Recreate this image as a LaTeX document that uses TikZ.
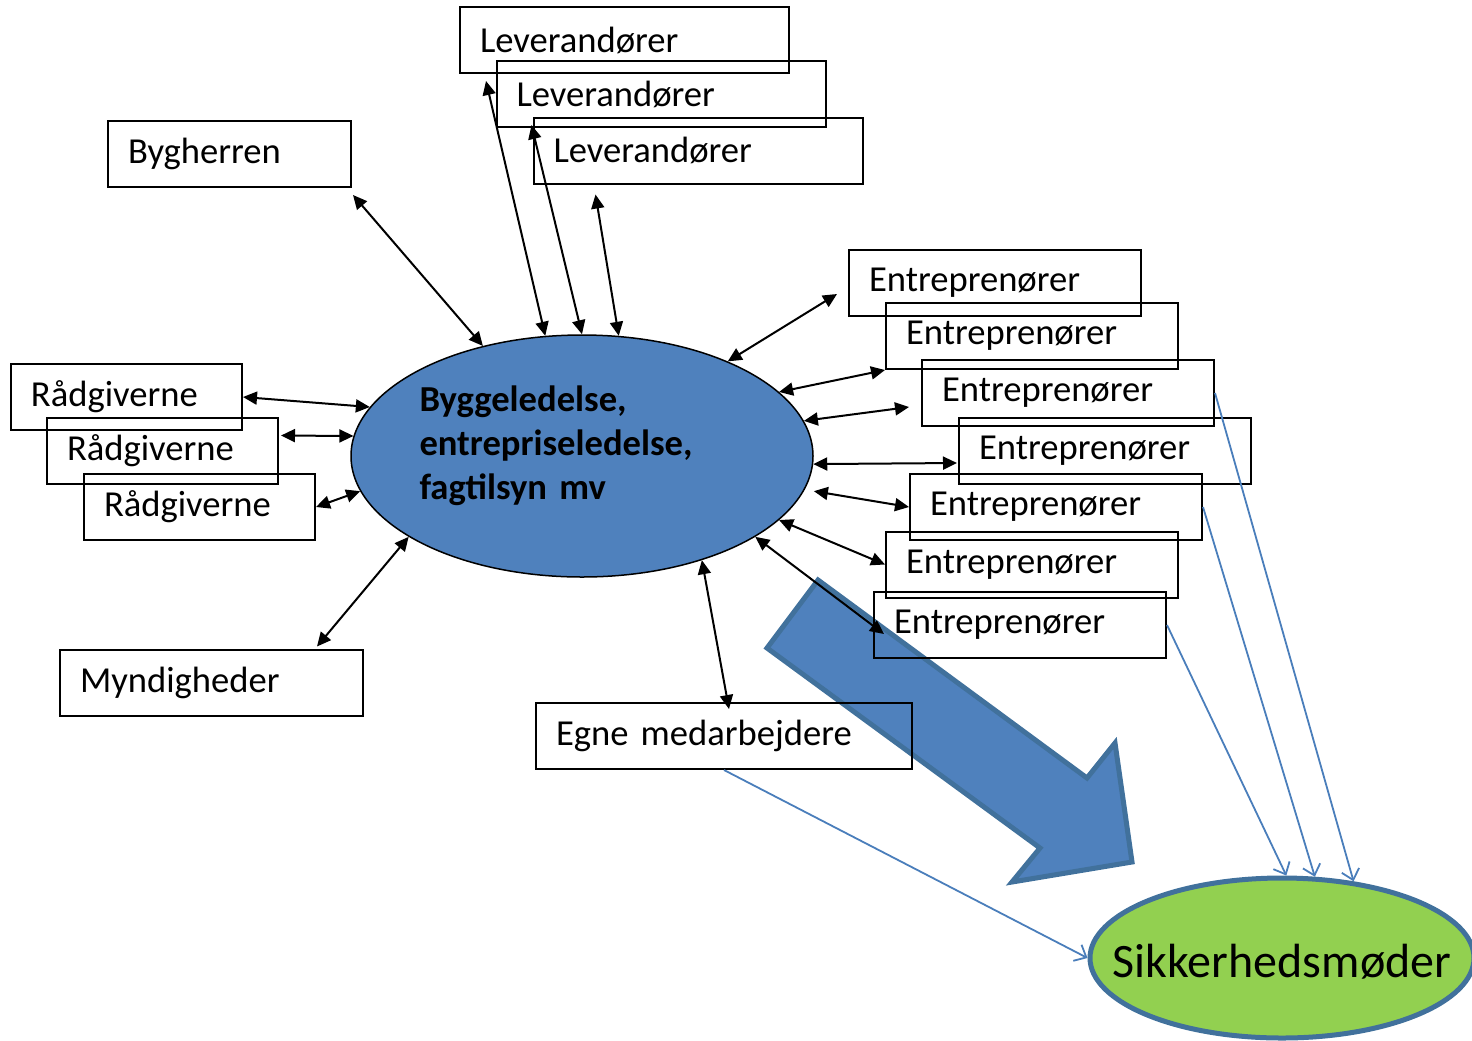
\documentclass[tikz,border=0pt]{standalone}
\usepackage{fontspec}
\setmainfont{Carlito}
\usetikzlibrary{backgrounds,calc,arrows.meta,shapes.geometric}
\definecolor{hubblue}{HTML}{4F81BD}
\definecolor{rimblue}{HTML}{41719C}
\definecolor{feedblue}{HTML}{4A7EBB}
\definecolor{leafgreen}{HTML}{92D050}

\begin{document}
\begin{tikzpicture}[x=0.5pt,y=-0.5pt]
	% `party' is used for the boxes round the hub.
	% `link' is the two-way black arrow, `feed' the thin blue one.
	\tikzstyle{party} = [draw,line width=1pt,minimum height=33pt,inner xsep=10pt,align=left,font=\fontsize{18.3}{22}\selectfont]
	\tikzstyle{levbox} = [party,text width=144.5pt]
	\tikzstyle{entrbox} = [party,text width=126pt]
	\tikzstyle{raadbox} = [party,text width=95.5pt]
	\tikzstyle{hub} = [draw,line width=0.75pt,fill=hubblue,shape=ellipse,minimum width=231pt,minimum height=121pt,inner sep=0pt]
	\tikzstyle{meeting} = [draw=rimblue,line width=2.5pt,fill=leafgreen,shape=ellipse,minimum width=192pt,minimum height=80pt,inner sep=0pt]
	\tikzstyle{link} = [{Triangle[length=7pt,width=6.5pt]}-{Triangle[length=7pt,width=6.5pt]},line width=1pt]
	\tikzstyle{feed} = [-{Straight Barb[length=5pt,width=9pt]},draw=feedblue,line width=0.9pt]
	\tikzstyle{bigarrow} = [fill=hubblue,draw=rimblue,line width=2.5pt,line join=miter]
	%
	\useasboundingbox (0,0) rectangle (1472,1040);
	% Hub in the middle.
	\node[hub] (bl) at (582,456) {};
	\node[align=left,text width=162.5pt,inner sep=0pt,font=\fontsize{18.3}{22}\selectfont\bfseries] (bltext) at ([yshift=5pt]bl.center)
		{Byggeledelse,\\entrepriseledelse,\\fagtilsyn mv};
	% Boxes, top.
	\node[levbox] (lev1) at (624.5,40) {Leverandører};
	\node[levbox] (lev2) at (661,94) {Leverandører};
	\node[levbox] (lev3) at (698,150.5) {Leverandører};
	\node[party,text width=101.5pt] (byg) at (229.5,154) {Bygherren};
	% Boxes, left.
	\node[raadbox] (raad1) at (126.5,397) {Rådgiverne};
	\node[raadbox] (raad2) at (162.5,450.5) {Rådgiverne};
	\node[raadbox] (raad3) at (199.5,507) {Rådgiverne};
	\node[party,text width=131.5pt] (mynd) at (211.5,682.5) {Myndigheder};
	\node[party,text width=168pt] (egne) at (724,736) {Egne medarbejdere};
	% Boxes, right.
	\node[entrbox] (entr1) at (995,283) {Entreprenører};
	\node[entrbox] (entr2) at (1032,336) {Entreprenører};
	\node[entrbox] (entr3) at (1068,393) {Entreprenører};
	\node[entrbox] (entr4) at (1105,450.5) {Entreprenører};
	\node[entrbox] (entr5) at (1056,507) {Entreprenører};
	\node[entrbox] (entr6) at (1032,564.5) {Entreprenører};
	\node[entrbox] (entr7) at (1020,625) {Entreprenører};
	% Meeting.
	\node[meeting,label={[font=\fontsize{24}{28}\selectfont,yshift=-2pt]center:Sikkerhedsmøder}] (sik) at (1282,958) {};
	\begin{pgfonlayer}{background}
		% Big arrow towards the meeting.
		\draw[bigarrow] (767,648) -- (1040,848) -- (1012,882) -- (1132,862)
			-- (1115,743) -- (1087,778) -- (818,580) -- cycle;
	\end{pgfonlayer}
	% Two-way links.
	\draw[link] ($(byg.south east)+(1,7)$) -- (bl.132);
	\draw[link] ($(lev1.south west)+(27,7)$) -- (bl.107);
	\draw[link] ($(lev2.south west)+(36,-3)$) -- (bl.90);
	\draw[link] ($(lev3.south west)+(63,10)$) -- (bl.73);
	\draw[link] ($(entr1.west)+(-11,11)$) -- (bl.33);
	\draw[link] (entr2.south west) -- (bl.18);
	\draw[link] ($(entr3.west)+(-12,14)$) -- (bl.9);
	\draw[link] ($(entr4.west)+(-1,12.5)$) -- (bl.358);
	\draw[link] (entr5.west) -- ($(bl.351)+(10,0)$);
	\draw[link] (entr6.west) -- (bl.342);
	\draw[link] ($(entr7.west)+(11,9)$) -- (bl.335);
	\draw[link] ($(egne.north)+(5,7)$) -- (bl.319);
	\draw[link] ($(mynd.north east)+(-47,-2)$) -- (bl.205);
	\draw[link] (raad1.east) -- (bl.167);
	\draw[link] ($(raad2.east)+(2,-15)$) -- (bl.175);
	\draw[link] (raad3.east) -- (bl.189);
	% Feeds to the meeting.
	\draw[feed] (entr3.east) -- (sik.47);
	\draw[feed] (entr5.east) -- (sik.68);
	\draw[feed] (entr7.east) -- (sik.87);
	\draw[feed] (egne.south) -- (sik.west);
%
\end{tikzpicture}
\end{document}
